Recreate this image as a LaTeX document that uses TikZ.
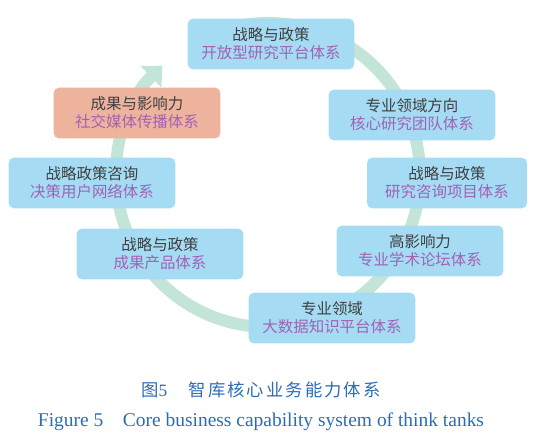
\documentclass[tikz,border=0pt]{standalone}
\usepackage{fontspec}
\setmainfont{Liberation Serif}
\newfontfamily\cjk{Noto Sans CJK SC}
\newfontfamily\capcjk[LetterSpace=12]{Noto Sans CJK SC}
\usetikzlibrary{arrows.meta}
\definecolor{TKBlue}{HTML}{A5DCF4}
\definecolor{TKSalmon}{HTML}{EEB39D}
\definecolor{TKRing}{HTML}{C3E5D7}
\definecolor{TKInk}{HTML}{3F3F3F}
\definecolor{TKPurple}{HTML}{A062B4}
\definecolor{TKCaption}{HTML}{2B6CB6}
\tikzset{
  ring/.style={TKRing,line width=9pt,-{Triangle[length=12pt,width=22pt]}},
  card/.style={fill=TKBlue,rounded corners=4pt,minimum width=125pt,minimum height=38pt,
               inner sep=0pt,align=center,text=TKInk,font=\cjk\fontsize{11.6}{13.5}\selectfont},
  cardsalmon/.style={card,fill=TKSalmon},
  cardnarrow/.style={card,minimum width=120pt},
  captioncn/.style={text=TKCaption,font=\fontsize{13}{15}\selectfont},
  captionen/.style={text=TKCaption,font=\fontsize{14.6}{17}\selectfont},
}
\newcommand{\subline}[1]{\textcolor{TKPurple}{#1}}

\begin{document}
\begin{tikzpicture}[x=.75pt,y=.75pt]
    \useasboundingbox (0,0) rectangle (536,443);

    % cycle ring behind the cards
    \coordinate (ctr) at (268,268);
    \draw[ring] (ctr) ++(100:152) arc[start angle=100,end angle=-226,radius=152];

    % capability cards, clockwise from the top
    \node[card] (platform) at (271,399) {战略与政策\\\subline{开放型研究平台体系}};
    \node[card] (team) at (412,328) {专业领域方向\\\subline{核心研究团队体系}};
    \node[cardnarrow] (project) at (447,260) {战略与政策\\\subline{研究咨询项目体系}};
    \node[card] (forum) at (420,192) {高影响力\\\subline{专业学术论坛体系}};
    \node[card] (bigdata) at (332,125) {专业领域\\\subline{大数据知识平台体系}};
    \node[card] (product) at (160,189) {战略与政策\\\subline{成果产品体系}};
    \node[card] (users) at (92,260) {战略政策咨询\\\subline{决策用户网络体系}};
    \node[cardsalmon] (media) at (137,330) {成果与影响力\\\subline{社交媒体传播体系}};

    % caption
    \node[captioncn] (capcn) at (261,53) {{\capcjk 图}5\hspace*{16pt}{\capcjk 智库核心业务能力体系}};
    \node[captionen] (capen) at (261,21) {Figure 5\quad Core business capability system of think tanks};
  \end{tikzpicture}
\end{document}
